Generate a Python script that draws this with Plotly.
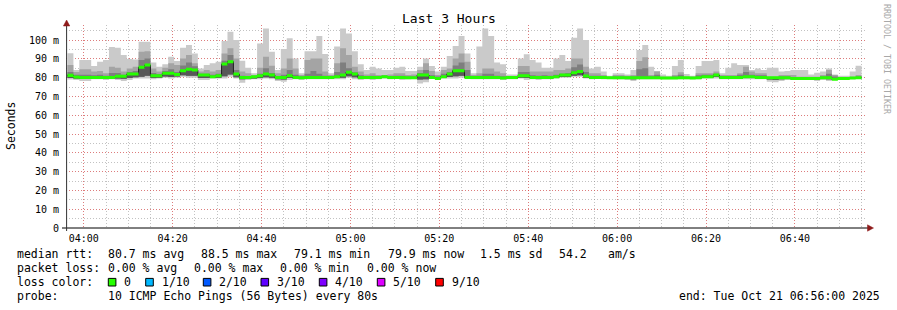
import plotly.graph_objects as go
from datetime import datetime, timedelta

# ---------------- data (ms) ----------------
start = datetime(2025, 10, 21, 3, 56, 20)
step_s = 80

mx = [93.0, 84.0, 89.4, 89.4, 86.2, 88.5, 89.4, 96.3, 95.9, 92.0,
      89.9, 89.7, 99.1, 99.1, 88.1, 85.8, 87.1, 91.1, 88.8, 95.9,
      97.3, 92.9, 84.9, 86.7, 87.6, 88.5, 99.5, 104.4, 100.0, 89.0,
      85.3, 82.3, 98.2, 106.2, 93.8, 84.0, 95.2, 100.9, 90.2, 82.3,
      94.1, 94.1, 102.1, 92.6, 82.3, 96.5, 106.2, 103.5, 94.1, 87.1,
      84.0, 85.8, 84.9, 84.0, 84.0, 85.3, 85.8, 83.5, 83.5, 85.8,
      90.2, 86.2, 83.2, 85.8, 91.5, 96.8, 102.1, 92.9, 82.3, 96.5,
      106.2, 102.1, 88.1, 87.1, 81.7, 81.7, 90.2, 92.4, 89.4, 88.0,
      85.3, 85.3, 90.2, 92.0, 88.8, 101.2, 106.2, 100.0, 84.9, 85.8,
      83.2, 81.0, 82.3, 82.3, 81.7, 84.0, 94.7, 97.3, 85.8, 83.5,
      81.7, 81.0, 86.2, 89.4, 81.9, 81.0, 86.2, 88.8, 88.8, 89.4,
      82.3, 85.3, 87.6, 86.7, 86.7, 84.0, 84.9, 84.0, 85.3, 85.3,
      83.2, 83.5, 84.0, 84.0, 84.0, 81.7, 82.6, 83.2, 84.9, 81.7,
      81.0, 81.0, 83.2, 86.3]

hi = [86.7, 83.0, 84.4, 84.4, 83.2, 83.5, 82.3, 85.8, 85.3, 83.2,
      84.9, 85.8, 93.8, 94.1, 84.9, 83.2, 85.3, 87.6, 86.7, 90.2,
      92.0, 87.6, 83.2, 84.0, 83.2, 84.0, 92.9, 95.6, 90.2, 83.2,
      82.3, 81.4, 85.3, 91.1, 86.3, 82.3, 84.9, 90.2, 84.9, 81.4,
      89.4, 90.2, 90.2, 83.2, 81.4, 87.6, 95.6, 92.0, 85.8, 83.2,
      81.7, 82.3, 81.4, 81.4, 81.7, 82.3, 82.3, 81.4, 81.7, 84.0,
      87.6, 83.5, 81.4, 84.0, 84.9, 90.2, 92.9, 88.5, 81.4, 82.3,
      84.9, 84.9, 83.2, 82.3, 80.9, 80.9, 86.2, 86.2, 83.2, 83.2,
      83.2, 83.2, 84.0, 84.0, 84.9, 90.2, 90.2, 85.8, 82.3, 82.3,
      81.4, 80.5, 81.4, 81.4, 81.0, 81.4, 88.8, 90.8, 81.4, 83.2,
      80.5, 80.3, 81.4, 82.8, 80.5, 80.5, 82.3, 82.3, 82.3, 83.2,
      81.4, 81.4, 81.4, 82.3, 85.8, 83.2, 82.3, 82.3, 80.5, 80.5,
      81.4, 81.4, 81.4, 80.5, 80.5, 80.5, 80.5, 81.4, 84.0, 81.4,
      80.3, 80.3, 80.5, 81.4]

mid = [83.0, 81.5, 81.5, 81.5, 81.2, 81.5, 81.0, 82.5, 82.5, 81.5,
       83.0, 83.5, 89.4, 90.2, 82.5, 81.8, 83.5, 84.5, 83.0, 86.5,
       88.0, 86.0, 82.0, 82.0, 81.5, 82.0, 89.0, 92.0, 84.0, 81.0,
       80.8, 80.8, 82.0, 85.0, 82.5, 80.8, 81.5, 84.0, 81.5, 80.6,
       82.0, 83.5, 82.0, 81.0, 80.8, 83.0, 88.0, 85.0, 82.8, 81.2,
       80.8, 81.0, 80.8, 81.0, 80.8, 81.0, 81.0, 80.6, 80.6, 82.5,
       84.0, 81.2, 80.6, 82.0, 83.0, 86.5, 88.0, 84.0, 80.8, 81.0,
       82.0, 82.0, 81.0, 80.8, 80.6, 80.6, 83.0, 83.0, 81.2, 81.0,
       81.2, 81.0, 81.5, 82.0, 82.5, 85.5, 87.0, 83.0, 81.0, 81.0,
       80.6, 80.3, 80.6, 80.6, 80.5, 80.6, 84.5, 85.0, 80.6, 81.5,
       80.3, 80.2, 80.6, 81.5, 80.3, 80.3, 81.2, 81.5, 81.5, 82.0,
       80.6, 80.8, 80.8, 81.5, 83.0, 81.5, 81.2, 81.2, 80.4, 80.4,
       80.6, 80.6, 80.4, 80.4, 80.4, 80.4, 80.4, 80.6, 82.0, 80.6,
       80.2, 80.2, 80.4, 80.6]

med = [81.2, 80.3, 80.1, 80.1, 80.1, 80.1, 80.1, 80.1, 80.7, 80.7,
       81.9, 81.9, 85.5, 86.7, 81.0, 81.0, 82.3, 82.3, 81.7, 83.7,
       84.4, 84.0, 81.4, 81.4, 80.5, 81.0, 87.2, 88.5, 81.9, 80.1,
       80.1, 80.5, 81.0, 81.9, 81.4, 80.1, 80.1, 81.0, 80.1, 79.9,
       80.1, 80.1, 80.1, 80.1, 80.1, 80.5, 81.4, 82.8, 81.9, 80.1,
       80.1, 80.1, 80.1, 80.5, 80.1, 80.1, 80.1, 79.9, 79.9, 81.4,
       81.4, 80.1, 79.6, 80.5, 81.9, 83.7, 83.7, 80.1, 80.1, 80.1,
       80.1, 80.1, 80.1, 79.8, 80.1, 80.1, 81.0, 81.0, 80.1, 80.1,
       80.1, 80.1, 80.5, 81.4, 81.4, 82.6, 83.2, 80.9, 80.1, 80.1,
       80.1, 79.96, 79.96, 79.96, 79.96, 79.96, 79.96, 79.96, 79.96, 79.96,
       79.8, 79.8, 79.8, 79.96, 79.96, 79.8, 79.96, 80.5, 80.5, 81.4,
       80.1, 80.1, 80.1, 80.1, 80.5, 80.5, 80.1, 80.1, 79.96, 79.96,
       79.96, 79.96, 79.6, 79.6, 79.6, 79.6, 79.6, 79.96, 79.96, 79.1,
       79.6, 79.6, 79.8, 79.9]

lo = [79.8, 79.6, 79.4, 79.4, 79.6, 79.6, 79.4, 79.6, 79.6, 79.4,
      79.8, 80.2, 80.5, 81.0, 79.8, 80.0, 80.6, 80.4, 80.6, 81.2,
      81.0, 81.0, 79.8, 79.8, 79.8, 80.0, 80.8, 81.6, 80.2, 79.2,
      79.4, 79.6, 79.8, 80.2, 80.0, 79.2, 79.0, 79.8, 79.6, 79.4,
      79.6, 79.6, 79.6, 79.6, 79.6, 79.8, 80.0, 80.8, 80.2, 79.4,
      79.6, 79.4, 79.6, 79.9, 79.6, 79.8, 79.4, 79.4, 79.6, 79.0,
      79.2, 79.8, 79.2, 79.9, 80.4, 80.8, 81.0, 79.8, 79.6, 79.6,
      79.6, 79.6, 79.6, 79.3, 79.6, 79.6, 80.0, 79.8, 79.6, 79.4,
      79.6, 79.6, 79.9, 80.4, 80.4, 81.0, 81.2, 80.0, 79.6, 79.8,
      79.6, 79.8, 79.6, 79.6, 79.4, 79.2, 79.6, 79.6, 79.6, 79.6,
      79.5, 79.5, 79.5, 79.6, 79.6, 79.5, 79.6, 80.0, 80.0, 80.3,
      79.6, 79.6, 79.6, 79.6, 79.8, 79.8, 79.6, 79.6, 79.0, 78.8,
      79.2, 79.4, 79.2, 79.2, 79.2, 79.2, 79.0, 79.4, 79.2, 78.9,
      79.3, 79.3, 79.4, 79.7]

mn = [79.0, 78.7, 78.2, 78.2, 79.1, 79.1, 78.7, 79.1, 78.7, 78.2,
      78.7, 79.6, 79.6, 79.6, 79.1, 79.6, 80.0, 79.6, 80.0, 80.5,
      80.0, 80.0, 78.7, 78.7, 79.6, 79.6, 79.6, 80.5, 79.6, 77.3,
      78.7, 79.1, 79.1, 79.6, 79.1, 78.2, 77.8, 78.7, 79.1, 78.7,
      79.1, 79.1, 79.1, 79.1, 79.1, 79.1, 79.1, 80.0, 79.1, 78.7,
      79.1, 78.7, 79.1, 79.6, 79.1, 79.6, 78.7, 79.1, 79.6, 76.9,
      77.5, 79.6, 78.7, 79.6, 79.6, 79.6, 80.0, 79.6, 79.1, 79.1,
      79.1, 79.1, 79.1, 78.7, 79.1, 79.1, 79.6, 78.7, 79.1, 78.7,
      79.1, 79.1, 79.6, 80.0, 80.0, 80.5, 80.5, 79.6, 79.1, 79.6,
      79.1, 79.6, 79.1, 79.1, 78.7, 78.2, 79.1, 79.1, 79.1, 79.1,
      79.1, 79.1, 79.1, 79.1, 79.1, 79.1, 79.1, 79.6, 79.6, 79.6,
      79.1, 79.1, 79.1, 79.1, 79.1, 79.1, 79.1, 79.1, 77.8, 77.5,
      78.2, 78.7, 78.7, 78.7, 78.7, 78.7, 78.2, 78.7, 78.2, 78.7,
      79.1, 79.1, 79.1, 79.6]

x_tick_labels = ["04:00", "04:20", "04:40", "05:00", "05:20", "05:40", "06:00", "06:20", "06:40"]
y_tick_vals = [0, 10, 20, 30, 40, 50, 60, 70, 80, 90, 100]
y_tick_text = ["0", "10 m", "20 m", "30 m", "40 m", "50 m", "60 m", "70 m", "80 m", "90 m", "100 m"]

rtt_stats = ["80.7 ms avg", "88.5 ms max", "79.1 ms min", "79.9 ms now", "1.5 ms sd", "54.2", "am/s"]
loss_stats = ["0.00 % avg", "0.00 % max", "0.00 % min", "0.00 % now"]
loss_labels = ["0", "1/10", "2/10", "3/10", "4/10", "5/10", "9/10"]
loss_colors = ["#26ff00", "#00b8ff", "#0059ff", "#5e00ff", "#7e00ff", "#dd00ff", "#ff0000"]
probe_text = "10 ICMP Echo Pings (56 Bytes) every 80s"
end_text = "end: Tue Oct 21 06:56:00 2025"

# ---------------- layout geometry (px) ----------------
W, H = 897, 310
L, R, T, B = 66, 866, 25, 228
MONO = "DejaVu Sans Mono"
MAJOR_GRID = "rgba(255,40,40,0.45)"
MINOR_GRID = "rgba(120,120,120,0.45)"
DOTS = "1px,2px"


def px(X):
    return (X - L) / (R - L)


def py(Y):
    return (B - Y) / (B - T)


n = len(med)
x_edges = [start + timedelta(seconds=step_s * i) for i in range(n + 1)]


def ext(a):
    return list(a) + [a[-1]]


fig = go.Figure()


def band(lower, upper, color):
    fig.add_trace(go.Scatter(x=x_edges, y=ext(lower), mode="lines",
                             line=dict(width=0, shape="hv"), hoverinfo="skip", showlegend=False))
    fig.add_trace(go.Scatter(x=x_edges, y=ext(upper), mode="lines",
                             line=dict(width=0, shape="hv"), fill="tonexty", fillcolor=color,
                             hoverinfo="skip", showlegend=False))


band(mn, mx, "#cacaca")
band(lo, hi, "#a4a4a4")
band(lo, mid, "#7e7e7e")
band(lo, med, "#585858")
fig.add_trace(go.Scatter(x=x_edges, y=ext(med), mode="lines",
                         line=dict(width=1, shape="hv", color="#202020"),
                         hoverinfo="skip", showlegend=False))
half_w = 0.8
band([v - half_w for v in med], [v + half_w for v in med], loss_colors[0])

t0 = datetime(2025, 10, 21, 4, 0)
tick_times = [t0 + timedelta(minutes=20 * k) for k in range(len(x_tick_labels))]

fig.update_xaxes(type="date",
                 range=[datetime(2025, 10, 21, 3, 56), datetime(2025, 10, 21, 6, 56)],
                 tickmode="array", tickvals=tick_times, ticktext=x_tick_labels,
                 showgrid=True, gridcolor=MAJOR_GRID, griddash=DOTS, gridwidth=1,
                 minor=dict(dtick=300000, tick0=t0, showgrid=True,
                            gridcolor=MINOR_GRID, griddash=DOTS, gridwidth=1),
                 zeroline=False, showline=False, ticks="outside", ticklen=1,
                 tickcolor="rgba(0,0,0,0)",
                 tickfont=dict(family=MONO, size=10, color="#000"))
fig.update_yaxes(range=[0, 108], tickmode="array", tickvals=y_tick_vals, ticktext=y_tick_text,
                 showgrid=True, gridcolor=MAJOR_GRID, griddash=DOTS, gridwidth=1,
                 minor=dict(dtick=5, showgrid=True, gridcolor=MINOR_GRID,
                            griddash=DOTS, gridwidth=1),
                 zeroline=False, showline=False, ticks="outside", ticklen=4,
                 tickcolor="rgba(0,0,0,0)",
                 tickfont=dict(family=MONO, size=10, color="#000"))

shapes = []
# axis lines
shapes.append(dict(type="line", xref="paper", yref="paper", x0=px(62), x1=px(869), y0=0, y1=0,
                   line=dict(color="#000", width=1)))
shapes.append(dict(type="line", xref="paper", yref="paper", x0=px(66.6), x1=px(66.6), y0=py(231),
                   y1=py(24), line=dict(color="#333", width=1)))
# arrows
arrow_col = "#8e1a1a"
shapes.append(dict(type="path", xref="paper", yref="paper",
                   path=f"M {px(867.5)} {py(224.8)} L {px(873.5)} {py(228)} L {px(867.5)} {py(231.2)} Z",
                   fillcolor=arrow_col, line=dict(color=arrow_col, width=0.5)))
shapes.append(dict(type="path", xref="paper", yref="paper",
                   path=f"M {px(63.4)} {py(26)} L {px(66.6)} {py(20)} L {px(69.8)} {py(26)} Z",
                   fillcolor=arrow_col, line=dict(color=arrow_col, width=0.5)))

annotations = []


def text(X, Y, s, size=11.5, color="#000", anchor="left", angle=0):
    annotations.append(dict(x=px(X), y=py(Y), xref="paper", yref="paper", text=s, showarrow=False,
                            xanchor=anchor, yanchor="middle", textangle=angle,
                            font=dict(family=MONO, size=size, color=color), borderpad=0))


# title and side labels
text(448.5, 18.5, "Last 3 Hours", size=13, anchor="center")
text(11, 126, "Seconds", size=11.5, anchor="center", angle=-90)
text(887, 59, "RRDTOOL / TOBI OETIKER", size=8.3, color="#a8a8a8", anchor="center", angle=90)

# legend rows
row_y = [254.3, 268.3, 282.3, 296.3]
text(16, row_y[0], "median rtt:")
for X, s in zip([107.3, 200, 293.3, 386.7, 479.3, 558.3, 606.7], rtt_stats):
    text(X, row_y[0], s)
text(16, row_y[1], "packet loss:")
for X, s in zip([107.3, 193.3, 279.3, 365.7], loss_stats):
    text(X, row_y[1], s)
text(16, row_y[2], "loss color:")
box_x = [108.3, 145.7, 203.3, 261, 319.3, 377.3, 435.7]
for bx, lab, col in zip(box_x, loss_labels, loss_colors):
    shapes.append(dict(type="rect", xref="paper", yref="paper", x0=px(bx), x1=px(bx + 7.6),
                       y0=py(286), y1=py(278.4), fillcolor=col, line=dict(color="#000", width=1)))
    text(bx + 15, row_y[2], lab)
text(16, row_y[3], "probe:")
text(107.3, row_y[3], probe_text)
text(881, row_y[3], end_text, anchor="right")

fig.update_layout(width=W, height=H, autosize=False,
                  margin=dict(l=L, r=W - R, t=T, b=H - B, pad=0),
                  paper_bgcolor="#ffffff", plot_bgcolor="#ffffff",
                  showlegend=False, shapes=shapes, annotations=annotations,
                  font=dict(family=MONO))

fig.write_html("out.html")
